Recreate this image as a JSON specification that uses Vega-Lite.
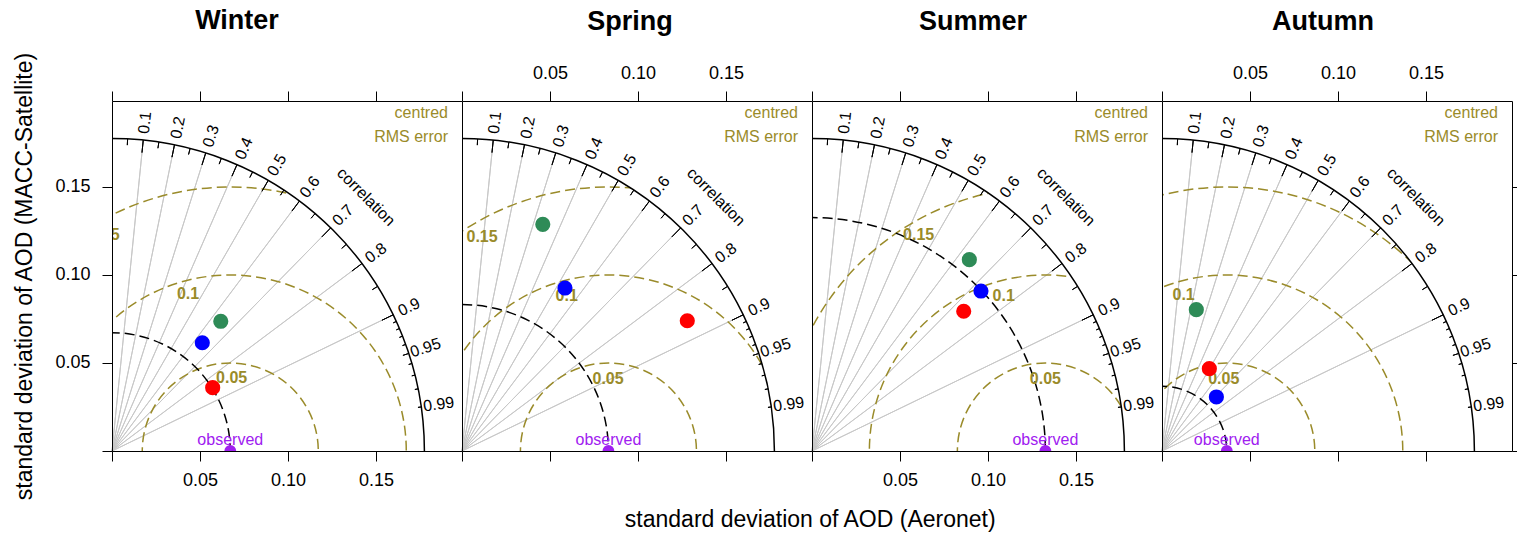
{
"$schema":"https://vega.github.io/schema/vega-lite/v6.json",
"padding":{"left":13,"top":6,"right":0,"bottom":0},
"spacing":0,
"bounds":"flush",
"config":{"font":"Liberation Sans","view":{"stroke":null}},
"title":{"text":"standard deviation of AOD (Aeronet)","orient":"bottom","anchor":"middle","fontSize":23,"fontWeight":"normal","font":"Liberation Sans","color":"black","offset":9,"dx":42},
"datasets":{
"one":[{"R":0.1775}],
"pts":[
{"season":"Winter","series":"A","x":0.0618,"y":0.0737},
{"season":"Winter","series":"B","x":0.0513,"y":0.0615},
{"season":"Winter","series":"C","x":0.0572,"y":0.0360},
{"season":"Spring","series":"A","x":0.0459,"y":0.1288},
{"season":"Spring","series":"B","x":0.0585,"y":0.0926},
{"season":"Spring","series":"C","x":0.1280,"y":0.0740},
{"season":"Summer","series":"A","x":0.0894,"y":0.1087},
{"season":"Summer","series":"B","x":0.0960,"y":0.0909},
{"season":"Summer","series":"C","x":0.0862,"y":0.0794},
{"season":"Autumn","series":"A","x":0.0195,"y":0.0803},
{"season":"Autumn","series":"B","x":0.0309,"y":0.0307},
{"season":"Autumn","series":"C","x":0.0269,"y":0.0468}
],
"obs":[
{"season":"Winter","sd":0.0672},
{"season":"Spring","sd":0.0832},
{"season":"Summer","sd":0.1326},
{"season":"Autumn","sd":0.0368}
],
"rms":[
{"season":"Winter","cx":0.0672,"r":0.05},{"season":"Winter","cx":0.0672,"r":0.1},{"season":"Winter","cx":0.0672,"r":0.15},
{"season":"Spring","cx":0.0832,"r":0.05},{"season":"Spring","cx":0.0832,"r":0.1},{"season":"Spring","cx":0.0832,"r":0.15},
{"season":"Summer","cx":0.1326,"r":0.05},{"season":"Summer","cx":0.1326,"r":0.1},{"season":"Summer","cx":0.1326,"r":0.15},
{"season":"Autumn","cx":0.0368,"r":0.05},{"season":"Autumn","cx":0.0368,"r":0.1},{"season":"Autumn","cx":0.0368,"r":0.15}
],
"rmslab":[
{"season":"Winter","label":"0.05","x":0.068,"y":0.0415},{"season":"Winter","label":"0.1","x":0.0432,"y":0.0892},{"season":"Winter","label":"0.15","x":-0.0045,"y":0.1229},
{"season":"Spring","label":"0.05","x":0.083,"y":0.0409},{"season":"Spring","label":"0.1","x":0.0595,"y":0.0878},{"season":"Spring","label":"0.15","x":0.0114,"y":0.1218},
{"season":"Summer","label":"0.05","x":0.1326,"y":0.0411},{"season":"Summer","label":"0.1","x":0.1089,"y":0.0881},{"season":"Summer","label":"0.15","x":0.0606,"y":0.1226},
{"season":"Autumn","label":"0.05","x":0.0351,"y":0.0411},{"season":"Autumn","label":"0.1","x":0.0123,"y":0.0885},{"season":"Autumn","label":"0.15","x":-0.036,"y":0.1226}
],
"corr":[
{"c":0.05,"ang":87.134,"kind":"mid","lab":""},
{"c":0.1,"ang":84.261,"kind":"major","lab":"0.1"},
{"c":0.15,"ang":81.373,"kind":"mid","lab":""},
{"c":0.2,"ang":78.463,"kind":"major","lab":"0.2"},
{"c":0.25,"ang":75.522,"kind":"mid","lab":""},
{"c":0.3,"ang":72.542,"kind":"major","lab":"0.3"},
{"c":0.35,"ang":69.513,"kind":"mid","lab":""},
{"c":0.4,"ang":66.422,"kind":"major","lab":"0.4"},
{"c":0.45,"ang":63.256,"kind":"mid","lab":""},
{"c":0.5,"ang":60.0,"kind":"major","lab":"0.5"},
{"c":0.55,"ang":56.633,"kind":"mid","lab":""},
{"c":0.6,"ang":53.130,"kind":"major","lab":"0.6"},
{"c":0.65,"ang":49.458,"kind":"mid","lab":""},
{"c":0.7,"ang":45.573,"kind":"major","lab":"0.7"},
{"c":0.75,"ang":41.410,"kind":"mid","lab":""},
{"c":0.8,"ang":36.870,"kind":"major","lab":"0.8"},
{"c":0.85,"ang":31.788,"kind":"mid","lab":""},
{"c":0.9,"ang":25.842,"kind":"major","lab":"0.9"},
{"c":0.91,"ang":24.495,"kind":"small","lab":""},
{"c":0.92,"ang":23.074,"kind":"small","lab":""},
{"c":0.93,"ang":21.565,"kind":"small","lab":""},
{"c":0.94,"ang":19.948,"kind":"small","lab":""},
{"c":0.95,"ang":18.195,"kind":"mid","lab":"0.95"},
{"c":0.96,"ang":16.260,"kind":"small","lab":""},
{"c":0.97,"ang":14.070,"kind":"small","lab":""},
{"c":0.98,"ang":11.478,"kind":"small","lab":""},
{"c":0.99,"ang":8.110,"kind":"small","lab":"0.99"}
]
},
"hconcat":[
{
"width":350,"height":350,
"title":{"text":"Winter","fontSize":27,"fontWeight":"bold","font":"Liberation Sans","color":"black","anchor":"middle","offset":17,"dx":-50},
"resolve":{"axis":{"x":"independent","y":"independent"}},
"layer":[
{"data":{"name":"corr"},"transform":[{"filter":"datum.kind == 'major'"}],"mark":{"type":"arc","filled":false,"stroke":"#c8c8c8","strokeWidth":1},"encoding":{"x":{"datum":0,"type":"quantitative","scale":{"domain":[0,0.19886],"nice":false,"zero":false},"axis":{"orient":"bottom","values":[0,0.05,0.1,0.15],"format":".2f","labelExpr":"datum.value == 0 ? '' : datum.label","title":null,"grid":false,"tickSize":10,"labelPadding":10,"labelFontSize":18,"labelFont":"Liberation Sans","labelColor":"black","domainColor":"black","tickColor":"black","labelFlush":false,"labelOverlap":false,"zindex":1}},"y":{"datum":0,"type":"quantitative","scale":{"domain":[0,0.19886],"nice":false,"zero":false},"axis":{"orient":"left","values":[0,0.05,0.1,0.15],"format":".2f","labelExpr":"datum.value == 0 ? '' : datum.label","title":"standard deviation of AOD (MACC-Satellite)","titleFontSize":23,"titleFontWeight":"normal","titleFont":"Liberation Sans","titleColor":"black","titlePadding":18,"grid":false,"tickSize":10,"labelPadding":12,"labelFontSize":18,"labelFont":"Liberation Sans","labelColor":"black","domainColor":"black","tickColor":"black","labelFlush":false,"labelOverlap":false,"zindex":1}},"theta":{"field":"ang","type":"quantitative","scale":{"type":"linear","domain":[0,90],"range":[1.5707963,0],"zero":false,"nice":false},"stack":null},"theta2":{"field":"ang"},"radius":{"datum":0,"type":"quantitative","scale":{"type":"linear","domain":[0,0.19886],"range":[0,350],"zero":false,"nice":false}},"radius2":{"datum":0.1775}}},
{"data":{"name":"rms"},"transform":[{"filter":"datum.season == 'Winter'"}],"mark":{"type":"point","shape":"circle","filled":false,"stroke":"#9a8b2a","strokeWidth":1.5,"strokeDash":[10,5],"opacity":1,"clip":true},"encoding":{"x":{"field":"cx","type":"quantitative","scale":{"domain":[0,0.19886],"nice":false,"zero":false},"axis":{"orient":"top","values":[0,0.05,0.1,0.15],"format":".2f","labelExpr":"datum.value == 0 ? '' : datum.label","title":null,"grid":false,"tickSize":10,"labelPadding":9,"labelFontSize":18,"labelFont":"Liberation Sans","labelColor":"black","labelOpacity":0,"domainColor":"black","tickColor":"black","labelFlush":false,"labelOverlap":false,"zindex":1}},"y":{"datum":0,"type":"quantitative","scale":{"domain":[0,0.19886],"nice":false,"zero":false},"axis":{"orient":"right","ticks":false,"labels":false,"title":null,"grid":false,"domainColor":"black","zindex":1}},"size":{"field":"r","type":"quantitative","scale":{"type":"pow","exponent":2,"domain":[0,0.19886],"range":[0,490000],"zero":false,"nice":false},"legend":null}}},
{"data":{"name":"obs"},"transform":[{"filter":"datum.season == 'Winter'"}],"mark":{"type":"point","shape":"circle","filled":false,"stroke":"black","strokeWidth":1.5,"strokeDash":[10,5],"opacity":1,"clip":true},"encoding":{"x":{"datum":0,"type":"quantitative","scale":{"domain":[0,0.19886],"nice":false,"zero":false},"axis":null},"y":{"datum":0,"type":"quantitative","scale":{"domain":[0,0.19886],"nice":false,"zero":false},"axis":null},"size":{"field":"sd","type":"quantitative","scale":{"type":"pow","exponent":2,"domain":[0,0.19886],"range":[0,490000],"zero":false,"nice":false},"legend":null}}},
{"data":{"name":"one"},"mark":{"type":"arc","fill":"white","stroke":null,"clip":true},"encoding":{"x":{"datum":0,"type":"quantitative","scale":{"domain":[0,0.19886],"nice":false,"zero":false},"axis":null},"y":{"datum":0,"type":"quantitative","scale":{"domain":[0,0.19886],"nice":false,"zero":false},"axis":null},"theta":{"datum":0,"type":"quantitative","scale":{"type":"linear","domain":[0,90],"range":[1.5707963,0],"zero":false,"nice":false}},"theta2":{"datum":90},"radius":{"field":"R","type":"quantitative","scale":{"type":"linear","domain":[0,0.19886],"range":[0,350],"zero":false,"nice":false}},"radius2":{"datum":0.3}}},
{"data":{"name":"one"},"mark":{"type":"point","shape":"circle","filled":false,"stroke":"black","strokeWidth":1.5,"opacity":1,"clip":true},"encoding":{"x":{"datum":0,"type":"quantitative","scale":{"domain":[0,0.19886],"nice":false,"zero":false},"axis":null},"y":{"datum":0,"type":"quantitative","scale":{"domain":[0,0.19886],"nice":false,"zero":false},"axis":null},"size":{"field":"R","type":"quantitative","scale":{"type":"pow","exponent":2,"domain":[0,0.19886],"range":[0,490000],"zero":false,"nice":false},"legend":null}}},
{"data":{"name":"corr"},"transform":[{"filter":"datum.kind == 'major'"}],"mark":{"type":"arc","filled":false,"stroke":"black","strokeWidth":1},"encoding":{"x":{"datum":0,"type":"quantitative","scale":{"domain":[0,0.19886],"nice":false,"zero":false},"axis":null},"y":{"datum":0,"type":"quantitative","scale":{"domain":[0,0.19886],"nice":false,"zero":false},"axis":null},"theta":{"field":"ang","type":"quantitative","scale":{"type":"linear","domain":[0,90],"range":[1.5707963,0],"zero":false,"nice":false},"stack":null},"theta2":{"field":"ang"},"radius":{"datum":0.1704,"type":"quantitative","scale":{"type":"linear","domain":[0,0.19886],"range":[0,350],"zero":false,"nice":false}},"radius2":{"datum":0.1775}}},
{"data":{"name":"corr"},"transform":[{"filter":"datum.kind == 'mid'"}],"mark":{"type":"arc","filled":false,"stroke":"black","strokeWidth":1},"encoding":{"x":{"datum":0,"type":"quantitative","scale":{"domain":[0,0.19886],"nice":false,"zero":false},"axis":null},"y":{"datum":0,"type":"quantitative","scale":{"domain":[0,0.19886],"nice":false,"zero":false},"axis":null},"theta":{"field":"ang","type":"quantitative","scale":{"type":"linear","domain":[0,90],"range":[1.5707963,0],"zero":false,"nice":false},"stack":null},"theta2":{"field":"ang"},"radius":{"datum":0.174,"type":"quantitative","scale":{"type":"linear","domain":[0,0.19886],"range":[0,350],"zero":false,"nice":false}},"radius2":{"datum":0.1775}}},
{"data":{"name":"corr"},"transform":[{"filter":"datum.kind == 'small'"}],"mark":{"type":"arc","filled":false,"stroke":"black","strokeWidth":1},"encoding":{"x":{"datum":0,"type":"quantitative","scale":{"domain":[0,0.19886],"nice":false,"zero":false},"axis":null},"y":{"datum":0,"type":"quantitative","scale":{"domain":[0,0.19886],"nice":false,"zero":false},"axis":null},"theta":{"field":"ang","type":"quantitative","scale":{"type":"linear","domain":[0,90],"range":[1.5707963,0],"zero":false,"nice":false},"stack":null},"theta2":{"field":"ang"},"radius":{"datum":0.1756,"type":"quantitative","scale":{"type":"linear","domain":[0,0.19886],"range":[0,350],"zero":false,"nice":false}},"radius2":{"datum":0.1775}}},
{"data":{"name":"corr"},"transform":[{"filter":"datum.lab != ''"}],"mark":{"type":"text","fontSize":16,"align":"center","baseline":"middle","color":"black"},"encoding":{"x":{"datum":0,"type":"quantitative","scale":{"domain":[0,0.19886],"nice":false,"zero":false},"axis":null},"y":{"datum":0,"type":"quantitative","scale":{"domain":[0,0.19886],"nice":false,"zero":false},"axis":null},"theta":{"field":"ang","type":"quantitative","scale":{"type":"linear","domain":[0,90],"range":[1.5707963,0],"zero":false,"nice":false}},"radius":{"datum":0.1875,"type":"quantitative","scale":{"type":"linear","domain":[0,0.19886],"range":[0,350],"zero":false,"nice":false}},"angle":{"field":"ang","type":"quantitative","scale":{"type":"linear","domain":[0,90],"range":[0,-90],"zero":false,"nice":false},"legend":null},"text":{"field":"lab"}}},
{"data":{"name":"one"},"mark":{"type":"text","text":"correlation","fontSize":16,"align":"center","baseline":"middle","angle":45,"color":"black"},"encoding":{"x":{"datum":0,"type":"quantitative","scale":{"domain":[0,0.19886],"nice":false,"zero":false},"axis":null},"y":{"datum":0,"type":"quantitative","scale":{"domain":[0,0.19886],"nice":false,"zero":false},"axis":null},"theta":{"datum":45,"type":"quantitative","scale":{"type":"linear","domain":[0,90],"range":[1.5707963,0],"zero":false,"nice":false}},"radius":{"datum":0.2041,"type":"quantitative","scale":{"type":"linear","domain":[0,0.19886],"range":[0,350],"zero":false,"nice":false}}}},
{"data":{"name":"rmslab"},"transform":[{"filter":"datum.season == 'Winter'"}],"mark":{"type":"text","fontSize":16,"fontWeight":"bold","color":"#9a8b2a","align":"center","baseline":"middle","clip":true},"encoding":{"x":{"field":"x","type":"quantitative","scale":{"domain":[0,0.19886],"nice":false,"zero":false},"axis":null},"y":{"field":"y","type":"quantitative","scale":{"domain":[0,0.19886],"nice":false,"zero":false},"axis":null},"text":{"field":"label"}}},
{"data":{"name":"one"},"mark":{"type":"text","text":["centred","RMS error"],"lineHeight":24,"fontSize":16,"color":"#9a8b2a","align":"right","baseline":"alphabetic"},"encoding":{"x":{"datum":0.1909,"type":"quantitative","scale":{"domain":[0,0.19886],"nice":false,"zero":false},"axis":null},"y":{"datum":0.1892,"type":"quantitative","scale":{"domain":[0,0.19886],"nice":false,"zero":false},"axis":null}}},
{"data":{"name":"pts"},"transform":[{"filter":"datum.season == 'Winter'"}],"mark":{"type":"circle","size":230,"opacity":1},"encoding":{"x":{"field":"x","type":"quantitative","scale":{"domain":[0,0.19886],"nice":false,"zero":false},"axis":null},"y":{"field":"y","type":"quantitative","scale":{"domain":[0,0.19886],"nice":false,"zero":false},"axis":null},"color":{"field":"series","type":"nominal","scale":{"domain":["A","B","C"],"range":["#2e8b57","#0000ff","#ff0000"]},"legend":null}}},
{"data":{"name":"obs"},"transform":[{"filter":"datum.season == 'Winter'"}],"mark":{"type":"circle","size":140,"opacity":1,"color":"#a020f0","clip":true},"encoding":{"x":{"field":"sd","type":"quantitative","scale":{"domain":[0,0.19886],"nice":false,"zero":false},"axis":null},"y":{"datum":0,"type":"quantitative","scale":{"domain":[0,0.19886],"nice":false,"zero":false},"axis":null}}},
{"data":{"name":"obs"},"transform":[{"filter":"datum.season == 'Winter'"}],"mark":{"type":"text","text":"observed","fontSize":16,"color":"#a020f0","align":"center","baseline":"alphabetic","dy":-6},"encoding":{"x":{"field":"sd","type":"quantitative","scale":{"domain":[0,0.19886],"nice":false,"zero":false},"axis":null},"y":{"datum":0,"type":"quantitative","scale":{"domain":[0,0.19886],"nice":false,"zero":false},"axis":null}}}
]
},
{
"width":350,"height":350,
"title":{"text":"Spring","fontSize":27,"fontWeight":"bold","font":"Liberation Sans","color":"black","anchor":"middle","offset":28,"dx":-7},
"resolve":{"axis":{"x":"independent","y":"independent"}},
"layer":[
{"data":{"name":"corr"},"transform":[{"filter":"datum.kind == 'major'"}],"mark":{"type":"arc","filled":false,"stroke":"#c8c8c8","strokeWidth":1},"encoding":{"x":{"datum":0,"type":"quantitative","scale":{"domain":[0,0.19886],"nice":false,"zero":false},"axis":{"orient":"bottom","values":[0,0.05,0.1,0.15],"labels":false,"title":null,"grid":false,"tickSize":10,"domainColor":"black","tickColor":"black","zindex":1}},"y":{"datum":0,"type":"quantitative","scale":{"domain":[0,0.19886],"nice":false,"zero":false},"axis":{"orient":"left","ticks":false,"labels":false,"title":null,"grid":false,"domainColor":"black","zindex":1}},"theta":{"field":"ang","type":"quantitative","scale":{"type":"linear","domain":[0,90],"range":[1.5707963,0],"zero":false,"nice":false},"stack":null},"theta2":{"field":"ang"},"radius":{"datum":0,"type":"quantitative","scale":{"type":"linear","domain":[0,0.19886],"range":[0,350],"zero":false,"nice":false}},"radius2":{"datum":0.1775}}},
{"data":{"name":"rms"},"transform":[{"filter":"datum.season == 'Spring'"}],"mark":{"type":"point","shape":"circle","filled":false,"stroke":"#9a8b2a","strokeWidth":1.5,"strokeDash":[10,5],"opacity":1,"clip":true},"encoding":{"x":{"field":"cx","type":"quantitative","scale":{"domain":[0,0.19886],"nice":false,"zero":false},"axis":{"orient":"top","values":[0,0.05,0.1,0.15],"format":".2f","labelExpr":"datum.value == 0 ? '' : datum.label","title":null,"grid":false,"tickSize":10,"labelPadding":9,"labelFontSize":18,"labelFont":"Liberation Sans","labelColor":"black","domainColor":"black","tickColor":"black","labelFlush":false,"labelOverlap":false,"zindex":1}},"y":{"datum":0,"type":"quantitative","scale":{"domain":[0,0.19886],"nice":false,"zero":false},"axis":{"orient":"right","ticks":false,"labels":false,"title":null,"grid":false,"domainColor":"black","zindex":1}},"size":{"field":"r","type":"quantitative","scale":{"type":"pow","exponent":2,"domain":[0,0.19886],"range":[0,490000],"zero":false,"nice":false},"legend":null}}},
{"data":{"name":"obs"},"transform":[{"filter":"datum.season == 'Spring'"}],"mark":{"type":"point","shape":"circle","filled":false,"stroke":"black","strokeWidth":1.5,"strokeDash":[10,5],"opacity":1,"clip":true},"encoding":{"x":{"datum":0,"type":"quantitative","scale":{"domain":[0,0.19886],"nice":false,"zero":false},"axis":null},"y":{"datum":0,"type":"quantitative","scale":{"domain":[0,0.19886],"nice":false,"zero":false},"axis":null},"size":{"field":"sd","type":"quantitative","scale":{"type":"pow","exponent":2,"domain":[0,0.19886],"range":[0,490000],"zero":false,"nice":false},"legend":null}}},
{"data":{"name":"one"},"mark":{"type":"arc","fill":"white","stroke":null,"clip":true},"encoding":{"x":{"datum":0,"type":"quantitative","scale":{"domain":[0,0.19886],"nice":false,"zero":false},"axis":null},"y":{"datum":0,"type":"quantitative","scale":{"domain":[0,0.19886],"nice":false,"zero":false},"axis":null},"theta":{"datum":0,"type":"quantitative","scale":{"type":"linear","domain":[0,90],"range":[1.5707963,0],"zero":false,"nice":false}},"theta2":{"datum":90},"radius":{"field":"R","type":"quantitative","scale":{"type":"linear","domain":[0,0.19886],"range":[0,350],"zero":false,"nice":false}},"radius2":{"datum":0.3}}},
{"data":{"name":"one"},"mark":{"type":"point","shape":"circle","filled":false,"stroke":"black","strokeWidth":1.5,"opacity":1,"clip":true},"encoding":{"x":{"datum":0,"type":"quantitative","scale":{"domain":[0,0.19886],"nice":false,"zero":false},"axis":null},"y":{"datum":0,"type":"quantitative","scale":{"domain":[0,0.19886],"nice":false,"zero":false},"axis":null},"size":{"field":"R","type":"quantitative","scale":{"type":"pow","exponent":2,"domain":[0,0.19886],"range":[0,490000],"zero":false,"nice":false},"legend":null}}},
{"data":{"name":"corr"},"transform":[{"filter":"datum.kind == 'major'"}],"mark":{"type":"arc","filled":false,"stroke":"black","strokeWidth":1},"encoding":{"x":{"datum":0,"type":"quantitative","scale":{"domain":[0,0.19886],"nice":false,"zero":false},"axis":null},"y":{"datum":0,"type":"quantitative","scale":{"domain":[0,0.19886],"nice":false,"zero":false},"axis":null},"theta":{"field":"ang","type":"quantitative","scale":{"type":"linear","domain":[0,90],"range":[1.5707963,0],"zero":false,"nice":false},"stack":null},"theta2":{"field":"ang"},"radius":{"datum":0.1704,"type":"quantitative","scale":{"type":"linear","domain":[0,0.19886],"range":[0,350],"zero":false,"nice":false}},"radius2":{"datum":0.1775}}},
{"data":{"name":"corr"},"transform":[{"filter":"datum.kind == 'mid'"}],"mark":{"type":"arc","filled":false,"stroke":"black","strokeWidth":1},"encoding":{"x":{"datum":0,"type":"quantitative","scale":{"domain":[0,0.19886],"nice":false,"zero":false},"axis":null},"y":{"datum":0,"type":"quantitative","scale":{"domain":[0,0.19886],"nice":false,"zero":false},"axis":null},"theta":{"field":"ang","type":"quantitative","scale":{"type":"linear","domain":[0,90],"range":[1.5707963,0],"zero":false,"nice":false},"stack":null},"theta2":{"field":"ang"},"radius":{"datum":0.174,"type":"quantitative","scale":{"type":"linear","domain":[0,0.19886],"range":[0,350],"zero":false,"nice":false}},"radius2":{"datum":0.1775}}},
{"data":{"name":"corr"},"transform":[{"filter":"datum.kind == 'small'"}],"mark":{"type":"arc","filled":false,"stroke":"black","strokeWidth":1},"encoding":{"x":{"datum":0,"type":"quantitative","scale":{"domain":[0,0.19886],"nice":false,"zero":false},"axis":null},"y":{"datum":0,"type":"quantitative","scale":{"domain":[0,0.19886],"nice":false,"zero":false},"axis":null},"theta":{"field":"ang","type":"quantitative","scale":{"type":"linear","domain":[0,90],"range":[1.5707963,0],"zero":false,"nice":false},"stack":null},"theta2":{"field":"ang"},"radius":{"datum":0.1756,"type":"quantitative","scale":{"type":"linear","domain":[0,0.19886],"range":[0,350],"zero":false,"nice":false}},"radius2":{"datum":0.1775}}},
{"data":{"name":"corr"},"transform":[{"filter":"datum.lab != ''"}],"mark":{"type":"text","fontSize":16,"align":"center","baseline":"middle","color":"black"},"encoding":{"x":{"datum":0,"type":"quantitative","scale":{"domain":[0,0.19886],"nice":false,"zero":false},"axis":null},"y":{"datum":0,"type":"quantitative","scale":{"domain":[0,0.19886],"nice":false,"zero":false},"axis":null},"theta":{"field":"ang","type":"quantitative","scale":{"type":"linear","domain":[0,90],"range":[1.5707963,0],"zero":false,"nice":false}},"radius":{"datum":0.1875,"type":"quantitative","scale":{"type":"linear","domain":[0,0.19886],"range":[0,350],"zero":false,"nice":false}},"angle":{"field":"ang","type":"quantitative","scale":{"type":"linear","domain":[0,90],"range":[0,-90],"zero":false,"nice":false},"legend":null},"text":{"field":"lab"}}},
{"data":{"name":"one"},"mark":{"type":"text","text":"correlation","fontSize":16,"align":"center","baseline":"middle","angle":45,"color":"black"},"encoding":{"x":{"datum":0,"type":"quantitative","scale":{"domain":[0,0.19886],"nice":false,"zero":false},"axis":null},"y":{"datum":0,"type":"quantitative","scale":{"domain":[0,0.19886],"nice":false,"zero":false},"axis":null},"theta":{"datum":45,"type":"quantitative","scale":{"type":"linear","domain":[0,90],"range":[1.5707963,0],"zero":false,"nice":false}},"radius":{"datum":0.2041,"type":"quantitative","scale":{"type":"linear","domain":[0,0.19886],"range":[0,350],"zero":false,"nice":false}}}},
{"data":{"name":"rmslab"},"transform":[{"filter":"datum.season == 'Spring'"}],"mark":{"type":"text","fontSize":16,"fontWeight":"bold","color":"#9a8b2a","align":"center","baseline":"middle","clip":true},"encoding":{"x":{"field":"x","type":"quantitative","scale":{"domain":[0,0.19886],"nice":false,"zero":false},"axis":null},"y":{"field":"y","type":"quantitative","scale":{"domain":[0,0.19886],"nice":false,"zero":false},"axis":null},"text":{"field":"label"}}},
{"data":{"name":"one"},"mark":{"type":"text","text":["centred","RMS error"],"lineHeight":24,"fontSize":16,"color":"#9a8b2a","align":"right","baseline":"alphabetic"},"encoding":{"x":{"datum":0.1909,"type":"quantitative","scale":{"domain":[0,0.19886],"nice":false,"zero":false},"axis":null},"y":{"datum":0.1892,"type":"quantitative","scale":{"domain":[0,0.19886],"nice":false,"zero":false},"axis":null}}},
{"data":{"name":"pts"},"transform":[{"filter":"datum.season == 'Spring'"}],"mark":{"type":"circle","size":230,"opacity":1},"encoding":{"x":{"field":"x","type":"quantitative","scale":{"domain":[0,0.19886],"nice":false,"zero":false},"axis":null},"y":{"field":"y","type":"quantitative","scale":{"domain":[0,0.19886],"nice":false,"zero":false},"axis":null},"color":{"field":"series","type":"nominal","scale":{"domain":["A","B","C"],"range":["#2e8b57","#0000ff","#ff0000"]},"legend":null}}},
{"data":{"name":"obs"},"transform":[{"filter":"datum.season == 'Spring'"}],"mark":{"type":"circle","size":140,"opacity":1,"color":"#a020f0","clip":true},"encoding":{"x":{"field":"sd","type":"quantitative","scale":{"domain":[0,0.19886],"nice":false,"zero":false},"axis":null},"y":{"datum":0,"type":"quantitative","scale":{"domain":[0,0.19886],"nice":false,"zero":false},"axis":null}}},
{"data":{"name":"obs"},"transform":[{"filter":"datum.season == 'Spring'"}],"mark":{"type":"text","text":"observed","fontSize":16,"color":"#a020f0","align":"center","baseline":"alphabetic","dy":-6},"encoding":{"x":{"field":"sd","type":"quantitative","scale":{"domain":[0,0.19886],"nice":false,"zero":false},"axis":null},"y":{"datum":0,"type":"quantitative","scale":{"domain":[0,0.19886],"nice":false,"zero":false},"axis":null}}}
]
},
{
"width":350,"height":350,
"title":{"text":"Summer","fontSize":27,"fontWeight":"bold","font":"Liberation Sans","color":"black","anchor":"middle","offset":28,"dx":-14},
"resolve":{"axis":{"x":"independent","y":"independent"}},
"layer":[
{"data":{"name":"corr"},"transform":[{"filter":"datum.kind == 'major'"}],"mark":{"type":"arc","filled":false,"stroke":"#c8c8c8","strokeWidth":1},"encoding":{"x":{"datum":0,"type":"quantitative","scale":{"domain":[0,0.19886],"nice":false,"zero":false},"axis":{"orient":"bottom","values":[0,0.05,0.1,0.15],"format":".2f","labelExpr":"datum.value == 0 ? '' : datum.label","title":null,"grid":false,"tickSize":10,"labelPadding":10,"labelFontSize":18,"labelFont":"Liberation Sans","labelColor":"black","domainColor":"black","tickColor":"black","labelFlush":false,"labelOverlap":false,"zindex":1}},"y":{"datum":0,"type":"quantitative","scale":{"domain":[0,0.19886],"nice":false,"zero":false},"axis":{"orient":"left","ticks":false,"labels":false,"title":null,"grid":false,"domainColor":"black","zindex":1}},"theta":{"field":"ang","type":"quantitative","scale":{"type":"linear","domain":[0,90],"range":[1.5707963,0],"zero":false,"nice":false},"stack":null},"theta2":{"field":"ang"},"radius":{"datum":0,"type":"quantitative","scale":{"type":"linear","domain":[0,0.19886],"range":[0,350],"zero":false,"nice":false}},"radius2":{"datum":0.1775}}},
{"data":{"name":"rms"},"transform":[{"filter":"datum.season == 'Summer'"}],"mark":{"type":"point","shape":"circle","filled":false,"stroke":"#9a8b2a","strokeWidth":1.5,"strokeDash":[10,5],"opacity":1,"clip":true},"encoding":{"x":{"field":"cx","type":"quantitative","scale":{"domain":[0,0.19886],"nice":false,"zero":false},"axis":{"orient":"top","values":[0,0.05,0.1,0.15],"format":".2f","labelExpr":"datum.value == 0 ? '' : datum.label","title":null,"grid":false,"tickSize":10,"labelPadding":9,"labelFontSize":18,"labelFont":"Liberation Sans","labelColor":"black","labelOpacity":0,"domainColor":"black","tickColor":"black","labelFlush":false,"labelOverlap":false,"zindex":1}},"y":{"datum":0,"type":"quantitative","scale":{"domain":[0,0.19886],"nice":false,"zero":false},"axis":{"orient":"right","ticks":false,"labels":false,"title":null,"grid":false,"domainColor":"black","zindex":1}},"size":{"field":"r","type":"quantitative","scale":{"type":"pow","exponent":2,"domain":[0,0.19886],"range":[0,490000],"zero":false,"nice":false},"legend":null}}},
{"data":{"name":"obs"},"transform":[{"filter":"datum.season == 'Summer'"}],"mark":{"type":"point","shape":"circle","filled":false,"stroke":"black","strokeWidth":1.5,"strokeDash":[10,5],"opacity":1,"clip":true},"encoding":{"x":{"datum":0,"type":"quantitative","scale":{"domain":[0,0.19886],"nice":false,"zero":false},"axis":null},"y":{"datum":0,"type":"quantitative","scale":{"domain":[0,0.19886],"nice":false,"zero":false},"axis":null},"size":{"field":"sd","type":"quantitative","scale":{"type":"pow","exponent":2,"domain":[0,0.19886],"range":[0,490000],"zero":false,"nice":false},"legend":null}}},
{"data":{"name":"one"},"mark":{"type":"arc","fill":"white","stroke":null,"clip":true},"encoding":{"x":{"datum":0,"type":"quantitative","scale":{"domain":[0,0.19886],"nice":false,"zero":false},"axis":null},"y":{"datum":0,"type":"quantitative","scale":{"domain":[0,0.19886],"nice":false,"zero":false},"axis":null},"theta":{"datum":0,"type":"quantitative","scale":{"type":"linear","domain":[0,90],"range":[1.5707963,0],"zero":false,"nice":false}},"theta2":{"datum":90},"radius":{"field":"R","type":"quantitative","scale":{"type":"linear","domain":[0,0.19886],"range":[0,350],"zero":false,"nice":false}},"radius2":{"datum":0.3}}},
{"data":{"name":"one"},"mark":{"type":"point","shape":"circle","filled":false,"stroke":"black","strokeWidth":1.5,"opacity":1,"clip":true},"encoding":{"x":{"datum":0,"type":"quantitative","scale":{"domain":[0,0.19886],"nice":false,"zero":false},"axis":null},"y":{"datum":0,"type":"quantitative","scale":{"domain":[0,0.19886],"nice":false,"zero":false},"axis":null},"size":{"field":"R","type":"quantitative","scale":{"type":"pow","exponent":2,"domain":[0,0.19886],"range":[0,490000],"zero":false,"nice":false},"legend":null}}},
{"data":{"name":"corr"},"transform":[{"filter":"datum.kind == 'major'"}],"mark":{"type":"arc","filled":false,"stroke":"black","strokeWidth":1},"encoding":{"x":{"datum":0,"type":"quantitative","scale":{"domain":[0,0.19886],"nice":false,"zero":false},"axis":null},"y":{"datum":0,"type":"quantitative","scale":{"domain":[0,0.19886],"nice":false,"zero":false},"axis":null},"theta":{"field":"ang","type":"quantitative","scale":{"type":"linear","domain":[0,90],"range":[1.5707963,0],"zero":false,"nice":false},"stack":null},"theta2":{"field":"ang"},"radius":{"datum":0.1704,"type":"quantitative","scale":{"type":"linear","domain":[0,0.19886],"range":[0,350],"zero":false,"nice":false}},"radius2":{"datum":0.1775}}},
{"data":{"name":"corr"},"transform":[{"filter":"datum.kind == 'mid'"}],"mark":{"type":"arc","filled":false,"stroke":"black","strokeWidth":1},"encoding":{"x":{"datum":0,"type":"quantitative","scale":{"domain":[0,0.19886],"nice":false,"zero":false},"axis":null},"y":{"datum":0,"type":"quantitative","scale":{"domain":[0,0.19886],"nice":false,"zero":false},"axis":null},"theta":{"field":"ang","type":"quantitative","scale":{"type":"linear","domain":[0,90],"range":[1.5707963,0],"zero":false,"nice":false},"stack":null},"theta2":{"field":"ang"},"radius":{"datum":0.174,"type":"quantitative","scale":{"type":"linear","domain":[0,0.19886],"range":[0,350],"zero":false,"nice":false}},"radius2":{"datum":0.1775}}},
{"data":{"name":"corr"},"transform":[{"filter":"datum.kind == 'small'"}],"mark":{"type":"arc","filled":false,"stroke":"black","strokeWidth":1},"encoding":{"x":{"datum":0,"type":"quantitative","scale":{"domain":[0,0.19886],"nice":false,"zero":false},"axis":null},"y":{"datum":0,"type":"quantitative","scale":{"domain":[0,0.19886],"nice":false,"zero":false},"axis":null},"theta":{"field":"ang","type":"quantitative","scale":{"type":"linear","domain":[0,90],"range":[1.5707963,0],"zero":false,"nice":false},"stack":null},"theta2":{"field":"ang"},"radius":{"datum":0.1756,"type":"quantitative","scale":{"type":"linear","domain":[0,0.19886],"range":[0,350],"zero":false,"nice":false}},"radius2":{"datum":0.1775}}},
{"data":{"name":"corr"},"transform":[{"filter":"datum.lab != ''"}],"mark":{"type":"text","fontSize":16,"align":"center","baseline":"middle","color":"black"},"encoding":{"x":{"datum":0,"type":"quantitative","scale":{"domain":[0,0.19886],"nice":false,"zero":false},"axis":null},"y":{"datum":0,"type":"quantitative","scale":{"domain":[0,0.19886],"nice":false,"zero":false},"axis":null},"theta":{"field":"ang","type":"quantitative","scale":{"type":"linear","domain":[0,90],"range":[1.5707963,0],"zero":false,"nice":false}},"radius":{"datum":0.1875,"type":"quantitative","scale":{"type":"linear","domain":[0,0.19886],"range":[0,350],"zero":false,"nice":false}},"angle":{"field":"ang","type":"quantitative","scale":{"type":"linear","domain":[0,90],"range":[0,-90],"zero":false,"nice":false},"legend":null},"text":{"field":"lab"}}},
{"data":{"name":"one"},"mark":{"type":"text","text":"correlation","fontSize":16,"align":"center","baseline":"middle","angle":45,"color":"black"},"encoding":{"x":{"datum":0,"type":"quantitative","scale":{"domain":[0,0.19886],"nice":false,"zero":false},"axis":null},"y":{"datum":0,"type":"quantitative","scale":{"domain":[0,0.19886],"nice":false,"zero":false},"axis":null},"theta":{"datum":45,"type":"quantitative","scale":{"type":"linear","domain":[0,90],"range":[1.5707963,0],"zero":false,"nice":false}},"radius":{"datum":0.2041,"type":"quantitative","scale":{"type":"linear","domain":[0,0.19886],"range":[0,350],"zero":false,"nice":false}}}},
{"data":{"name":"rmslab"},"transform":[{"filter":"datum.season == 'Summer'"}],"mark":{"type":"text","fontSize":16,"fontWeight":"bold","color":"#9a8b2a","align":"center","baseline":"middle","clip":true},"encoding":{"x":{"field":"x","type":"quantitative","scale":{"domain":[0,0.19886],"nice":false,"zero":false},"axis":null},"y":{"field":"y","type":"quantitative","scale":{"domain":[0,0.19886],"nice":false,"zero":false},"axis":null},"text":{"field":"label"}}},
{"data":{"name":"one"},"mark":{"type":"text","text":["centred","RMS error"],"lineHeight":24,"fontSize":16,"color":"#9a8b2a","align":"right","baseline":"alphabetic"},"encoding":{"x":{"datum":0.1909,"type":"quantitative","scale":{"domain":[0,0.19886],"nice":false,"zero":false},"axis":null},"y":{"datum":0.1892,"type":"quantitative","scale":{"domain":[0,0.19886],"nice":false,"zero":false},"axis":null}}},
{"data":{"name":"pts"},"transform":[{"filter":"datum.season == 'Summer'"}],"mark":{"type":"circle","size":230,"opacity":1},"encoding":{"x":{"field":"x","type":"quantitative","scale":{"domain":[0,0.19886],"nice":false,"zero":false},"axis":null},"y":{"field":"y","type":"quantitative","scale":{"domain":[0,0.19886],"nice":false,"zero":false},"axis":null},"color":{"field":"series","type":"nominal","scale":{"domain":["A","B","C"],"range":["#2e8b57","#0000ff","#ff0000"]},"legend":null}}},
{"data":{"name":"obs"},"transform":[{"filter":"datum.season == 'Summer'"}],"mark":{"type":"circle","size":140,"opacity":1,"color":"#a020f0","clip":true},"encoding":{"x":{"field":"sd","type":"quantitative","scale":{"domain":[0,0.19886],"nice":false,"zero":false},"axis":null},"y":{"datum":0,"type":"quantitative","scale":{"domain":[0,0.19886],"nice":false,"zero":false},"axis":null}}},
{"data":{"name":"obs"},"transform":[{"filter":"datum.season == 'Summer'"}],"mark":{"type":"text","text":"observed","fontSize":16,"color":"#a020f0","align":"center","baseline":"alphabetic","dy":-6},"encoding":{"x":{"field":"sd","type":"quantitative","scale":{"domain":[0,0.19886],"nice":false,"zero":false},"axis":null},"y":{"datum":0,"type":"quantitative","scale":{"domain":[0,0.19886],"nice":false,"zero":false},"axis":null}}}
]
},
{
"width":350,"height":350,
"title":{"text":"Autumn","fontSize":27,"fontWeight":"bold","font":"Liberation Sans","color":"black","anchor":"middle","offset":28,"dx":-14},
"resolve":{"axis":{"x":"independent","y":"independent"}},
"layer":[
{"data":{"name":"corr"},"transform":[{"filter":"datum.kind == 'major'"}],"mark":{"type":"arc","filled":false,"stroke":"#c8c8c8","strokeWidth":1},"encoding":{"x":{"datum":0,"type":"quantitative","scale":{"domain":[0,0.19886],"nice":false,"zero":false},"axis":{"orient":"bottom","values":[0,0.05,0.1,0.15],"labels":false,"title":null,"grid":false,"tickSize":10,"domainColor":"black","tickColor":"black","zindex":1}},"y":{"datum":0,"type":"quantitative","scale":{"domain":[0,0.19886],"nice":false,"zero":false},"axis":{"orient":"left","ticks":false,"labels":false,"title":null,"grid":false,"domainColor":"black","zindex":1}},"theta":{"field":"ang","type":"quantitative","scale":{"type":"linear","domain":[0,90],"range":[1.5707963,0],"zero":false,"nice":false},"stack":null},"theta2":{"field":"ang"},"radius":{"datum":0,"type":"quantitative","scale":{"type":"linear","domain":[0,0.19886],"range":[0,350],"zero":false,"nice":false}},"radius2":{"datum":0.1775}}},
{"data":{"name":"rms"},"transform":[{"filter":"datum.season == 'Autumn'"}],"mark":{"type":"point","shape":"circle","filled":false,"stroke":"#9a8b2a","strokeWidth":1.5,"strokeDash":[10,5],"opacity":1,"clip":true},"encoding":{"x":{"field":"cx","type":"quantitative","scale":{"domain":[0,0.19886],"nice":false,"zero":false},"axis":{"orient":"top","values":[0,0.05,0.1,0.15],"format":".2f","labelExpr":"datum.value == 0 ? '' : datum.label","title":null,"grid":false,"tickSize":10,"labelPadding":9,"labelFontSize":18,"labelFont":"Liberation Sans","labelColor":"black","domainColor":"black","tickColor":"black","labelFlush":false,"labelOverlap":false,"zindex":1}},"y":{"datum":0,"type":"quantitative","scale":{"domain":[0,0.19886],"nice":false,"zero":false},"axis":{"orient":"right","values":[0,0.05,0.1,0.15],"labels":false,"title":null,"grid":false,"tickSize":10,"domainColor":"black","tickColor":"black","zindex":1}},"size":{"field":"r","type":"quantitative","scale":{"type":"pow","exponent":2,"domain":[0,0.19886],"range":[0,490000],"zero":false,"nice":false},"legend":null}}},
{"data":{"name":"obs"},"transform":[{"filter":"datum.season == 'Autumn'"}],"mark":{"type":"point","shape":"circle","filled":false,"stroke":"black","strokeWidth":1.5,"strokeDash":[10,5],"opacity":1,"clip":true},"encoding":{"x":{"datum":0,"type":"quantitative","scale":{"domain":[0,0.19886],"nice":false,"zero":false},"axis":null},"y":{"datum":0,"type":"quantitative","scale":{"domain":[0,0.19886],"nice":false,"zero":false},"axis":null},"size":{"field":"sd","type":"quantitative","scale":{"type":"pow","exponent":2,"domain":[0,0.19886],"range":[0,490000],"zero":false,"nice":false},"legend":null}}},
{"data":{"name":"one"},"mark":{"type":"arc","fill":"white","stroke":null,"clip":true},"encoding":{"x":{"datum":0,"type":"quantitative","scale":{"domain":[0,0.19886],"nice":false,"zero":false},"axis":null},"y":{"datum":0,"type":"quantitative","scale":{"domain":[0,0.19886],"nice":false,"zero":false},"axis":null},"theta":{"datum":0,"type":"quantitative","scale":{"type":"linear","domain":[0,90],"range":[1.5707963,0],"zero":false,"nice":false}},"theta2":{"datum":90},"radius":{"field":"R","type":"quantitative","scale":{"type":"linear","domain":[0,0.19886],"range":[0,350],"zero":false,"nice":false}},"radius2":{"datum":0.3}}},
{"data":{"name":"one"},"mark":{"type":"point","shape":"circle","filled":false,"stroke":"black","strokeWidth":1.5,"opacity":1,"clip":true},"encoding":{"x":{"datum":0,"type":"quantitative","scale":{"domain":[0,0.19886],"nice":false,"zero":false},"axis":null},"y":{"datum":0,"type":"quantitative","scale":{"domain":[0,0.19886],"nice":false,"zero":false},"axis":null},"size":{"field":"R","type":"quantitative","scale":{"type":"pow","exponent":2,"domain":[0,0.19886],"range":[0,490000],"zero":false,"nice":false},"legend":null}}},
{"data":{"name":"corr"},"transform":[{"filter":"datum.kind == 'major'"}],"mark":{"type":"arc","filled":false,"stroke":"black","strokeWidth":1},"encoding":{"x":{"datum":0,"type":"quantitative","scale":{"domain":[0,0.19886],"nice":false,"zero":false},"axis":null},"y":{"datum":0,"type":"quantitative","scale":{"domain":[0,0.19886],"nice":false,"zero":false},"axis":null},"theta":{"field":"ang","type":"quantitative","scale":{"type":"linear","domain":[0,90],"range":[1.5707963,0],"zero":false,"nice":false},"stack":null},"theta2":{"field":"ang"},"radius":{"datum":0.1704,"type":"quantitative","scale":{"type":"linear","domain":[0,0.19886],"range":[0,350],"zero":false,"nice":false}},"radius2":{"datum":0.1775}}},
{"data":{"name":"corr"},"transform":[{"filter":"datum.kind == 'mid'"}],"mark":{"type":"arc","filled":false,"stroke":"black","strokeWidth":1},"encoding":{"x":{"datum":0,"type":"quantitative","scale":{"domain":[0,0.19886],"nice":false,"zero":false},"axis":null},"y":{"datum":0,"type":"quantitative","scale":{"domain":[0,0.19886],"nice":false,"zero":false},"axis":null},"theta":{"field":"ang","type":"quantitative","scale":{"type":"linear","domain":[0,90],"range":[1.5707963,0],"zero":false,"nice":false},"stack":null},"theta2":{"field":"ang"},"radius":{"datum":0.174,"type":"quantitative","scale":{"type":"linear","domain":[0,0.19886],"range":[0,350],"zero":false,"nice":false}},"radius2":{"datum":0.1775}}},
{"data":{"name":"corr"},"transform":[{"filter":"datum.kind == 'small'"}],"mark":{"type":"arc","filled":false,"stroke":"black","strokeWidth":1},"encoding":{"x":{"datum":0,"type":"quantitative","scale":{"domain":[0,0.19886],"nice":false,"zero":false},"axis":null},"y":{"datum":0,"type":"quantitative","scale":{"domain":[0,0.19886],"nice":false,"zero":false},"axis":null},"theta":{"field":"ang","type":"quantitative","scale":{"type":"linear","domain":[0,90],"range":[1.5707963,0],"zero":false,"nice":false},"stack":null},"theta2":{"field":"ang"},"radius":{"datum":0.1756,"type":"quantitative","scale":{"type":"linear","domain":[0,0.19886],"range":[0,350],"zero":false,"nice":false}},"radius2":{"datum":0.1775}}},
{"data":{"name":"corr"},"transform":[{"filter":"datum.lab != ''"}],"mark":{"type":"text","fontSize":16,"align":"center","baseline":"middle","color":"black"},"encoding":{"x":{"datum":0,"type":"quantitative","scale":{"domain":[0,0.19886],"nice":false,"zero":false},"axis":null},"y":{"datum":0,"type":"quantitative","scale":{"domain":[0,0.19886],"nice":false,"zero":false},"axis":null},"theta":{"field":"ang","type":"quantitative","scale":{"type":"linear","domain":[0,90],"range":[1.5707963,0],"zero":false,"nice":false}},"radius":{"datum":0.1875,"type":"quantitative","scale":{"type":"linear","domain":[0,0.19886],"range":[0,350],"zero":false,"nice":false}},"angle":{"field":"ang","type":"quantitative","scale":{"type":"linear","domain":[0,90],"range":[0,-90],"zero":false,"nice":false},"legend":null},"text":{"field":"lab"}}},
{"data":{"name":"one"},"mark":{"type":"text","text":"correlation","fontSize":16,"align":"center","baseline":"middle","angle":45,"color":"black"},"encoding":{"x":{"datum":0,"type":"quantitative","scale":{"domain":[0,0.19886],"nice":false,"zero":false},"axis":null},"y":{"datum":0,"type":"quantitative","scale":{"domain":[0,0.19886],"nice":false,"zero":false},"axis":null},"theta":{"datum":45,"type":"quantitative","scale":{"type":"linear","domain":[0,90],"range":[1.5707963,0],"zero":false,"nice":false}},"radius":{"datum":0.2041,"type":"quantitative","scale":{"type":"linear","domain":[0,0.19886],"range":[0,350],"zero":false,"nice":false}}}},
{"data":{"name":"rmslab"},"transform":[{"filter":"datum.season == 'Autumn'"}],"mark":{"type":"text","fontSize":16,"fontWeight":"bold","color":"#9a8b2a","align":"center","baseline":"middle","clip":true},"encoding":{"x":{"field":"x","type":"quantitative","scale":{"domain":[0,0.19886],"nice":false,"zero":false},"axis":null},"y":{"field":"y","type":"quantitative","scale":{"domain":[0,0.19886],"nice":false,"zero":false},"axis":null},"text":{"field":"label"}}},
{"data":{"name":"one"},"mark":{"type":"text","text":["centred","RMS error"],"lineHeight":24,"fontSize":16,"color":"#9a8b2a","align":"right","baseline":"alphabetic"},"encoding":{"x":{"datum":0.1909,"type":"quantitative","scale":{"domain":[0,0.19886],"nice":false,"zero":false},"axis":null},"y":{"datum":0.1892,"type":"quantitative","scale":{"domain":[0,0.19886],"nice":false,"zero":false},"axis":null}}},
{"data":{"name":"pts"},"transform":[{"filter":"datum.season == 'Autumn'"}],"mark":{"type":"circle","size":230,"opacity":1},"encoding":{"x":{"field":"x","type":"quantitative","scale":{"domain":[0,0.19886],"nice":false,"zero":false},"axis":null},"y":{"field":"y","type":"quantitative","scale":{"domain":[0,0.19886],"nice":false,"zero":false},"axis":null},"color":{"field":"series","type":"nominal","scale":{"domain":["A","B","C"],"range":["#2e8b57","#0000ff","#ff0000"]},"legend":null}}},
{"data":{"name":"obs"},"transform":[{"filter":"datum.season == 'Autumn'"}],"mark":{"type":"circle","size":140,"opacity":1,"color":"#a020f0","clip":true},"encoding":{"x":{"field":"sd","type":"quantitative","scale":{"domain":[0,0.19886],"nice":false,"zero":false},"axis":null},"y":{"datum":0,"type":"quantitative","scale":{"domain":[0,0.19886],"nice":false,"zero":false},"axis":null}}},
{"data":{"name":"obs"},"transform":[{"filter":"datum.season == 'Autumn'"}],"mark":{"type":"text","text":"observed","fontSize":16,"color":"#a020f0","align":"center","baseline":"alphabetic","dy":-6},"encoding":{"x":{"field":"sd","type":"quantitative","scale":{"domain":[0,0.19886],"nice":false,"zero":false},"axis":null},"y":{"datum":0,"type":"quantitative","scale":{"domain":[0,0.19886],"nice":false,"zero":false},"axis":null}}}
]
}
]
}
